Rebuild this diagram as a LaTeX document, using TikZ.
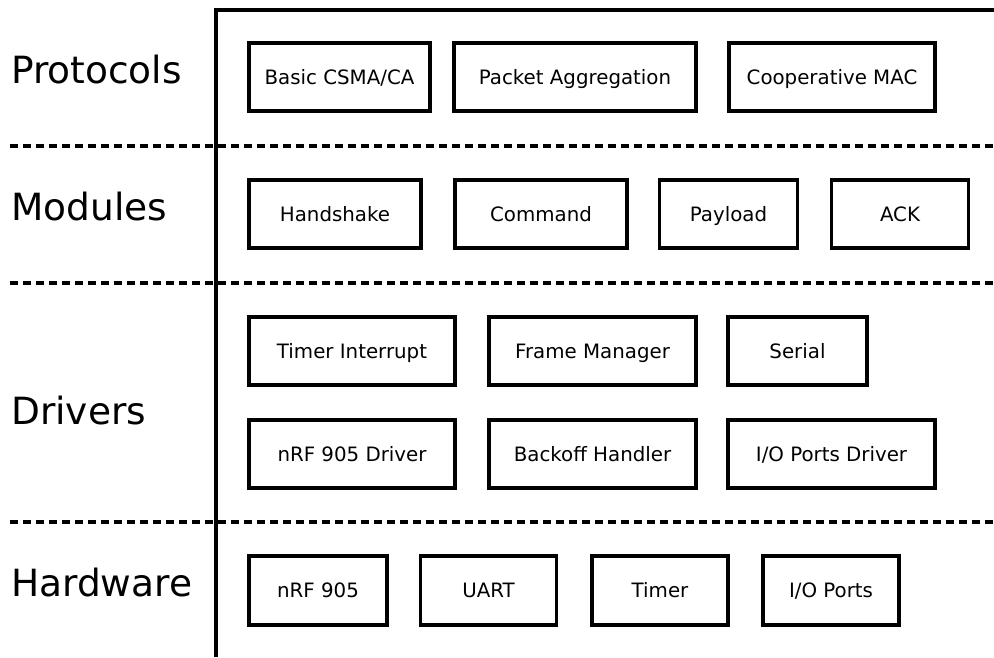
\documentclass[tikz,border=0pt]{standalone}
\usepackage{fontspec}
\setmainfont{DejaVu Sans}
\begin{document}
\begin{tikzpicture}[x=1pt,y=-1pt,
  box/.style={draw, line width=3.3pt, inner sep=0pt, minimum height=68pt,
    text height=14.4pt, text depth=0pt,
    font=\fontsize{19.8}{24}\selectfont},
  layer/.style={anchor=base west, inner sep=0pt, font=\fontsize{37.5}{45}\selectfont},
  sep/.style={line width=3.2pt, dash pattern=on 8pt off 5pt},
  frame/.style={line width=3.2pt}]
\useasboundingbox (0,0) rectangle (994,657);

% frame: vertical axis and top rule
\coordinate (top) at (216,10);
\coordinate (bot) at (216,657);
\coordinate (topr) at (994,10);
\draw[frame] (bot) -- (top) -- (topr);

% layer separators
\foreach \y/\n in {146/a,283/b,522/c}{
  \coordinate (s\n l) at (10,\y);
  \coordinate (s\n r) at (994,\y);
  \draw[sep] (s\n l) -- (s\n r);
}

% layer names
\node[layer] (lprot) at (11,83) {Protocols};
\node[layer] (lmod)  at (11,220) {Modules};
\node[layer] (ldrv)  at (11,424) {Drivers};
\node[layer] (lhw)   at (11,596) {Hardware};

% protocols
\node[box, minimum width=181pt] (csma) at (339.5,77) {Basic CSMA/CA};
\node[box, minimum width=242pt] (aggr) at (575,77) {Packet Aggregation};
\node[box, minimum width=206pt] (coop) at (832,77) {Cooperative MAC};

% modules
\node[box, minimum width=172pt] (hand) at (335,214) {Handshake};
\node[box, minimum width=172pt] (cmd)  at (541,214) {Command};
\node[box, minimum width=138pt] (pay)  at (728.5,214) {Payload};
\node[box, minimum width=137pt] (ack)  at (900,214) {ACK};

% drivers
\node[box, minimum width=206pt] (tint)  at (352,351) {Timer Interrupt};
\node[box, minimum width=207pt] (frame) at (592.5,351) {Frame Manager};
\node[box, minimum width=139pt] (ser)   at (797.5,351) {Serial};
\node[box, minimum width=206pt] (nrfd)  at (352,454) {nRF 905 Driver};
\node[box, minimum width=207pt] (back)  at (592.5,454) {Backoff Handler};
\node[box, minimum width=207pt] (iod)   at (831.5,454) {I/O Ports Driver};

% hardware
\node[box, minimum width=138pt, minimum height=69pt] (nrf)  at (318,590.5) {nRF 905};
\node[box, minimum width=136pt, minimum height=69pt] (uart) at (488.5,590.5) {UART};
\node[box, minimum width=136pt, minimum height=69pt] (tmr)  at (660,590.5) {Timer};
\node[box, minimum width=136pt, minimum height=69pt] (io)   at (831,590.5) {I/O Ports};
\end{tikzpicture}
\end{document}
